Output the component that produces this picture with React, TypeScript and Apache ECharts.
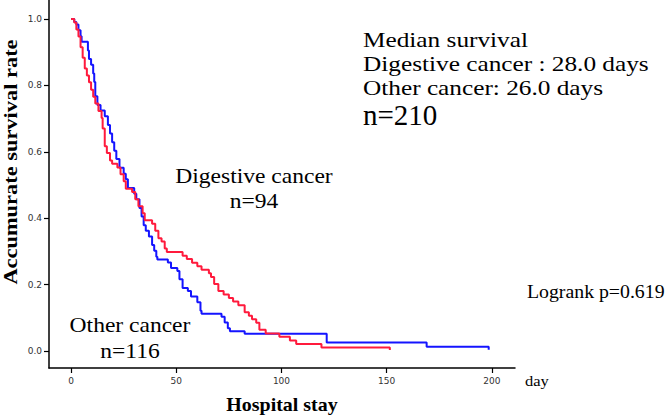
import React, { useEffect, useRef } from "react";
import * as echarts from "echarts";

// Kaplan–Meier step points: [day, cumulative survival]
const digestiveSurvival: [number, number][] = [
  [0, 1.0], [1.5, 0.989], [2.5, 0.968], [3.5, 0.947], [4.5, 0.915], [5.5, 0.883],
  [6.5, 0.851], [7.5, 0.83], [8.5, 0.809], [9.5, 0.787], [10.5, 0.766], [11.5, 0.745],
  [13, 0.723], [14.5, 0.702], [15, 0.67], [16, 0.617], [17, 0.596], [18.5, 0.574],
  [19.5, 0.564], [22, 0.553], [23.5, 0.532], [25, 0.511], [26, 0.489], [29, 0.479],
  [30.5, 0.457], [32, 0.436], [34, 0.415], [35, 0.394], [38.5, 0.383], [40, 0.362],
  [41.5, 0.34], [43, 0.33], [44.5, 0.309], [45.5, 0.298], [53, 0.287], [55, 0.277],
  [57.5, 0.266], [60, 0.255], [62, 0.245], [65.5, 0.234], [66.5, 0.223], [68, 0.202],
  [70, 0.181], [72.5, 0.17], [75, 0.16], [77, 0.149], [79.5, 0.138], [82.5, 0.117],
  [84.5, 0.106], [86, 0.096], [88, 0.085], [89.5, 0.064], [92.5, 0.053], [99, 0.043],
  [104, 0.032], [107, 0.021], [119, 0.011], [151.5, 0.011], [151.5, 0.003],
];

const otherSurvival: [number, number][] = [
  [0, 1.0], [1.5, 0.991], [2.5, 0.983], [3.5, 0.966], [4.5, 0.948], [5, 0.931],
  [8, 0.905], [8.5, 0.879], [9.5, 0.862], [10.5, 0.836], [11, 0.81], [11.5, 0.767],
  [12.5, 0.741], [14, 0.724], [16, 0.707], [17.5, 0.681], [18.5, 0.655], [19.5, 0.629],
  [20.5, 0.603], [21.5, 0.578], [23, 0.552], [25, 0.534], [26, 0.517], [27, 0.491],
  [30, 0.474], [31, 0.457], [32.5, 0.431], [33.5, 0.405], [34.5, 0.379], [35.5, 0.362],
  [37, 0.345], [38.5, 0.319], [39.5, 0.302], [40.5, 0.284], [41, 0.276], [46, 0.267],
  [47.5, 0.25], [50.5, 0.241], [51.5, 0.216], [53, 0.19], [55.5, 0.181], [57, 0.164],
  [60, 0.147], [61.5, 0.121], [62, 0.112], [71.5, 0.103], [73, 0.086], [74.5, 0.069],
  [75.5, 0.06], [82.5, 0.052], [121.5, 0.026], [169, 0.013], [198.5, 0.013], [198.5, 0.004],
];

const xTicks = [0, 50, 100, 150, 200];
const yTicks = [0, 0.2, 0.4, 0.6, 0.8, 1.0];

const medianLines = [
  "Median survival",
  "Digestive cancer : 28.0 days",
  "Other cancer: 26.0 days",
];
const totalLabel = "n=210";
const digestiveLabel = ["Digestive cancer", "n=94"];
const otherLabel = ["Other cancer", "n=116"];
const logrankLabel = "Logrank p=0.619";

const SERIF = '"Liberation Serif", "Times New Roman", serif';

function serifText(
  text: string,
  x: number,
  y: number,
  size: number,
  align: "left" | "center" = "left",
  scaleX = 1,
  bold = false
) {
  return {
    type: "text",
    x,
    y,
    scaleX,
    silent: true,
    style: {
      text,
      fill: "#000",
      font: `${bold ? "bold " : ""}${size}px ${SERIF}`,
      textAlign: align,
      textVerticalAlign: "middle",
    },
  };
}

export default function App() {
  const ref = useRef<HTMLDivElement>(null);

  useEffect(() => {
    if (!ref.current) return;
    const chart = echarts.init(ref.current, undefined, { renderer: "svg" });

    const axisLabelStyle = {
      color: "#333",
      fontFamily: '"DejaVu Sans", sans-serif',
      fontSize: 9,
    };

    chart.setOption({
      animation: false,
      backgroundColor: "#fff",
      grid: { left: 49, right: 151, top: 0, bottom: 47, containLabel: false },
      xAxis: {
        type: "value",
        min: -10.5,
        max: 211,
        axisLine: { show: true, onZero: false, lineStyle: { color: "#000", width: 1.5 } },
        axisTick: { show: true, customValues: xTicks, length: 5, lineStyle: { color: "#000", width: 1.2 } },
        axisLabel: { show: true, customValues: xTicks, margin: 8, ...axisLabelStyle },
        splitLine: { show: false },
      },
      yAxis: {
        type: "value",
        min: -0.051,
        max: 1.057,
        axisLine: { show: true, onZero: false, lineStyle: { color: "#000", width: 1.5 } },
        axisTick: { show: true, customValues: yTicks, length: 5, lineStyle: { color: "#000", width: 1.2 } },
        axisLabel: {
          show: true,
          customValues: yTicks,
          margin: 7,
          formatter: (v: number) => v.toFixed(1),
          ...axisLabelStyle,
        },
        splitLine: { show: false },
      },
      series: [
        {
          name: "Other cancer",
          type: "line",
          step: "end",
          showSymbol: false,
          data: otherSurvival,
          lineStyle: { color: "#1414ff", width: 2 },
          itemStyle: { color: "#1414ff" },
        },
        {
          name: "Digestive cancer",
          type: "line",
          step: "end",
          showSymbol: false,
          data: digestiveSurvival,
          lineStyle: { color: "#ff1a3c", width: 2 },
          itemStyle: { color: "#ff1a3c" },
        },
      ],
      graphic: [
        serifText(medianLines[0], 363, 40, 22, "left", 1.15),
        serifText(medianLines[1], 363, 64, 22, "left", 1.15),
        serifText(medianLines[2], 363, 88, 22, "left", 1.15),
        serifText(totalLabel, 363, 115, 29),
        serifText(digestiveLabel[0], 254, 176, 22, "center", 1.07),
        serifText(digestiveLabel[1], 254, 201, 22, "center", 1.07),
        serifText(otherLabel[0], 130, 325, 22, "center", 1.07),
        serifText(otherLabel[1], 130, 351, 22, "center", 1.07),
        serifText(logrankLabel, 527, 292, 18, "left", 1.1),
        serifText("day", 525, 381, 15, "left", 1.1),
        serifText("Hospital stay", 282, 405, 19, "center", 1.05, true),
        {
          type: "text",
          x: 10,
          y: 162,
          rotation: Math.PI / 2,
          scaleX: 1.18,
          silent: true,
          style: {
            text: "Accumurate survival rate",
            fill: "#000",
            font: `bold 19px ${SERIF}`,
            textAlign: "center",
            textVerticalAlign: "middle",
          },
        },
      ],
    });

    return () => chart.dispose();
  }, []);

  return (
    <div
      ref={ref}
      style={{ position: "fixed", left: 0, top: 0, width: 666, height: 415 }}
    />
  );
}
